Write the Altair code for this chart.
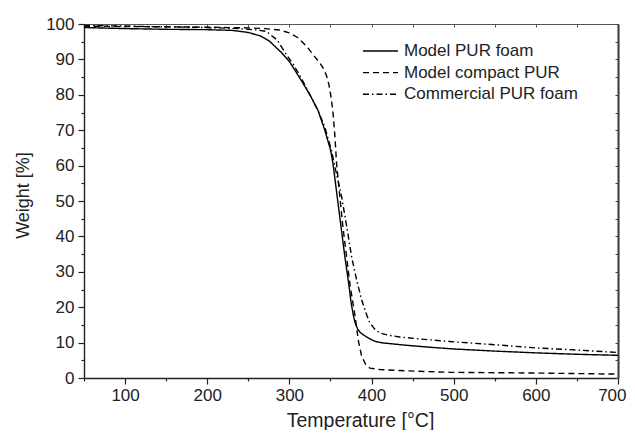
import altair as alt
import pandas as pd

series_names = ["Model PUR foam", "Model compact PUR", "Commercial PUR foam"]

foam_T = [50, 100, 150, 200, 230, 250, 265, 276, 290, 300, 312, 325, 335, 343, 350, 353,
          358, 363, 367.5, 372, 375, 377.6, 380, 383, 386, 390, 394, 400, 405, 414, 440, 470, 500,
          550, 600, 650, 700]
foam_W = [99.0, 98.7, 98.5, 98.4, 98.2, 97.6, 96.6, 95.1, 92.0, 89.4, 85.0, 80.0, 75.5, 70.1, 64.5, 60.7,
          51.6, 42.5, 34.3, 27.0, 21.5, 18.0, 15.6, 13.9, 12.9, 12.2, 11.6, 10.8, 10.3, 9.9, 9.3, 8.7, 8.2,
          7.6, 7.1, 6.7, 6.4]

compact_T = [50, 100, 200, 250, 270, 288, 300, 310, 321, 330, 336, 341, 345, 348, 351, 353.3, 355.5, 357.4,
             361.4, 365, 369.6, 374, 380, 384, 388, 393, 398, 410, 434, 495, 600, 700]
compact_W = [99.4, 99.3, 99.1, 98.9, 98.7, 98.3, 97.5, 96.2, 93.7, 91.0, 89.3, 87.6, 85.5, 83.0, 79.0, 74.4, 68.0, 60.7,
             51.3, 43.0, 34.3, 26.0, 17.4, 10.5, 6.1, 3.8, 2.8, 2.4, 2.1, 1.6, 1.4, 1.1]

comm_T = [50, 100, 150, 200, 240, 260, 272, 285, 296.6, 305, 315, 325, 335, 343, 351, 357,
          363.5, 370, 375.7, 382, 388, 393, 398, 404, 410, 420, 434, 460, 495, 550, 600, 650, 700]
comm_W = [99.6, 99.4, 99.2, 99.0, 98.7, 98.3, 97.9, 95.5, 91.3, 88.5, 84.5, 80.0, 75.5, 71.0, 64.5, 58.0,
          51.3, 42.5, 34.3, 27.5, 22.1, 18.5, 15.5, 13.8, 12.7, 12.1, 11.6, 11.0, 10.3, 9.4, 8.5, 7.9, 7.2]

x_ticks = list(range(50, 701, 50))
y_ticks = list(range(0, 101, 5))

rows = []
for name, Ts, Ws in zip(series_names, [foam_T, compact_T, comm_T], [foam_W, compact_W, comm_W]):
    for i, (t, w) in enumerate(zip(Ts, Ws)):
        rows.append({"series": name, "T": t, "W": w, "order": i})
df = pd.DataFrame(rows)

PW, PH = 534, 354
FONT = "Liberation Sans"
TXT = "#222222"

xscale = alt.Scale(domain=[50, 700], nice=False, zero=False)
yscale = alt.Scale(domain=[0, 100], nice=False, zero=True)

x_axis = alt.Axis(
    values=x_ticks,
    labelExpr="datum.value % 100 === 0 ? datum.label : ''",
    tickSize={"condition": {"test": "datum.value % 100 === 0", "value": 6}, "value": 3},
    tickColor=TXT, domainColor=TXT, domainWidth=1.4, tickWidth=1.2,
    labelFont=FONT, labelFontSize=17, labelColor=TXT, labelPadding=3,
    labelFlush=True, labelFlushOffset=8,
    grid=False, title="Temperature [°C]", titleFont=FONT, titleFontSize=19.5,
    titleFontWeight="normal", titleColor=TXT, titleX=276, titleY=48,
    titleBaseline="alphabetic", titleAnchor="start", titleAlign="center",
)
y_axis = alt.Axis(
    values=y_ticks,
    labelExpr="datum.value % 10 === 0 ? datum.label : ''",
    tickSize={"condition": {"test": "datum.value % 10 === 0", "value": 6}, "value": 3},
    tickColor=TXT, domainColor=TXT, domainWidth=1.4, tickWidth=1.2,
    labelFont=FONT, labelFontSize=17, labelColor=TXT, labelPadding=4, labelFlush=False,
    grid=False, title="Weight [%]", titleFont=FONT, titleFontSize=18,
    titleFontWeight="normal", titleColor=TXT, titleX=-55.5, titleY=171,
    titleBaseline="alphabetic", titleAngle=270, titleAlign="center",
)

lines = alt.Chart(df).mark_line(color="black", strokeWidth=1.4, clip=True).encode(
    x=alt.X("T:Q", scale=xscale, axis=x_axis),
    y=alt.Y("W:Q", scale=yscale, axis=y_axis),
    strokeDash=alt.StrokeDash(
        "series:N",
        scale=alt.Scale(domain=series_names, range=[[1, 0], [6, 4], [6, 3, 1.5, 3]]),
        legend=alt.Legend(
            title=None, orient="none", legendX=287, legendY=17.5,
            symbolType="M-2,0H2", symbolSize=306, symbolStrokeColor="black",
            symbolStrokeWidth=1.4, labelFont=FONT, labelFontSize=17,
            labelColor=TXT, labelOffset=14, rowPadding=3.6, labelLimit=400,
        ),
    ),
    order="order:Q",
)

frame = alt.Chart(df).mark_line(opacity=0).encode(
    x=alt.X("T:Q", scale=xscale, axis=alt.Axis(
        orient="bottom", offset=-PH, values=x_ticks, labels=False, title=None,
        tickSize=3, tickColor="#555", domainColor="#555", domainWidth=1, grid=False)),
    y=alt.Y("W:Q", scale=yscale, axis=alt.Axis(
        orient="left", offset=-PW, values=y_ticks, labels=False, title=None,
        tickSize=3, tickColor="#444", domainColor="#444", domainWidth=2.2, grid=False)),
    detail="series:N",
)

chart = alt.layer(lines, frame).resolve_axis(x="independent", y="independent").properties(
    width=PW, height=PH,
    autosize=alt.AutoSizeParams(type="none"),
    padding={"left": 76, "top": 16, "right": 9, "bottom": 52},
).configure_view(stroke=None).configure(font=FONT)

chart.save("out.html", embed_options={"renderer": "svg", "actions": False})
